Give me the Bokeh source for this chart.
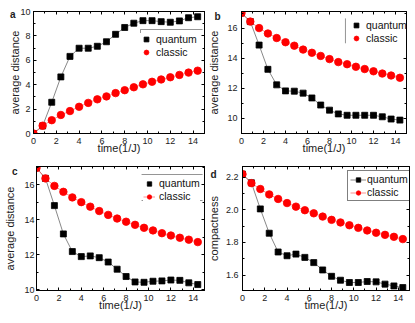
from bokeh.plotting import figure
from bokeh.models import (LinearAxis, SingleIntervalTicker, FixedTicker, Range1d,
                          Legend, LegendItem, PrintfTickFormatter, BoxAnnotation,
                          CustomLabelingPolicy, CustomJSTickFormatter)
from bokeh.layouts import column, row
from bokeh.embed import file_html
from bokeh.resources import INLINE

# ---------------- data ----------------
t = [0.0, 0.8, 1.6, 2.4, 3.2, 4.0, 4.8, 5.6, 6.4, 7.2, 8.0, 8.8, 9.6,
     10.4, 11.2, 12.0, 12.8, 13.6, 14.4]

a_quantum = [0.0, 0.62, 2.56, 4.64, 6.32, 6.99, 6.99, 7.15, 7.52, 8.13, 8.69,
             9.04, 9.25, 9.25, 9.17, 9.12, 9.23, 9.49, 9.57]
a_classic = [0.0, 0.64, 1.09, 1.52, 1.84, 2.19, 2.51, 2.80, 3.04, 3.31, 3.55,
             3.79, 4.03, 4.24, 4.43, 4.61, 4.80, 4.99, 5.15]

b_quantum = [17.0, 16.43, 14.87, 13.26, 12.23, 11.83, 11.81, 11.68, 11.36,
             10.89, 10.55, 10.30, 10.21, 10.21, 10.21, 10.21, 10.11, 9.96, 9.89]
b_classic = [17.0, 16.43, 16.0, 15.64, 15.34, 15.06, 14.83, 14.57, 14.36,
             14.15, 13.94, 13.74, 13.60, 13.43, 13.28, 13.13, 12.98, 12.85, 12.70]

c_quantum = [16.97, 16.37, 14.81, 13.19, 12.18, 11.89, 11.93, 11.83, 11.58,
             11.17, 10.75, 10.44, 10.42, 10.48, 10.50, 10.55, 10.53, 10.39, 10.29]
c_classic = [16.97, 16.37, 15.94, 15.60, 15.28, 15.01, 14.75, 14.50, 14.28,
             14.07, 13.89, 13.71, 13.54, 13.39, 13.23, 13.10, 12.97, 12.86, 12.72]

d_quantum = [2.218, 2.165, 2.005, 1.856, 1.741, 1.718, 1.728, 1.708, 1.676,
             1.631, 1.592, 1.568, 1.554, 1.554, 1.560, 1.558, 1.544, 1.533, 1.523]
d_classic = [2.218, 2.163, 2.127, 2.094, 2.066, 2.041, 2.019, 1.997, 1.978,
             1.958, 1.938, 1.922, 1.905, 1.889, 1.873, 1.859, 1.846, 1.834, 1.820]

series_labels = ["quantum", "classic"]
x_label = "time(1/J)"
panel_letters = ["a", "b", "c", "d"]
y_labels = ["average distance", "average distance", "average distance",
            "compactness"]

FONT = "Liberation Sans"
RED = "#ff0000"
TXT = "#222222"
BOTTOM = 32   # space the x axis actually takes


def base_axis(ax, interval):
    ax.ticker = SingleIntervalTicker(interval=interval, num_minor_ticks=2)
    ax.axis_line_color = "black"
    ax.major_tick_in = 3
    ax.major_tick_out = 0
    ax.minor_tick_in = 2
    ax.minor_tick_out = 0
    ax.major_tick_line_color = "black"
    ax.minor_tick_line_color = "black"
    ax.major_label_text_font = FONT
    ax.major_label_text_color = TXT
    ax.major_label_text_font_size = "9px"
    ax.axis_label_text_font = FONT
    ax.axis_label_text_font_size = "11px"
    ax.axis_label_text_font_style = "normal"
    ax.axis_label_text_color = TXT


def mirror_axis(ax, interval):
    base_axis(ax, interval)
    ax.major_label_text_font_size = "1px"
    ax.major_label_standoff = 0
    ax.axis_label_standoff = 0
    ax.formatter = CustomJSTickFormatter(code="return ''")
    ax.major_label_policy = CustomLabelingPolicy(
        code="for (const i of indices) indices.unset(i); return indices")


def make_panel(idx, q, c, yr, yint, w, h, borders, ystand, letter_y,
               leg_left, leg_top, leg_style, frag_lines, yfmt=None):
    bl, br, bt = borders
    p = figure(width=w, height=h, output_backend="svg", toolbar_location=None,
               x_range=Range1d(0, 15), y_range=Range1d(*yr),
               min_border_left=bl, min_border_right=br,
               min_border_top=bt, min_border_bottom=BOTTOM)
    p.grid.visible = False
    p.outline_line_color = "black"
    p.background_fill_color = "white"
    p.border_fill_color = "white"
    fw = w - bl - br
    fh = h - bt - BOTTOM

    xa = p.xaxis[0]
    base_axis(xa, 2)
    xa.axis_label = x_label
    xa.major_label_standoff = 4
    xa.axis_label_standoff = -5

    ya = p.yaxis[0]
    base_axis(ya, yint)
    if yfmt:
        ya.formatter = PrintfTickFormatter(format=yfmt)
    ya.major_label_standoff = ystand[0]

    # outer left axis: carries the panel letter (one tick) and the y title
    la = LinearAxis(ticker=FixedTicker(ticks=[letter_y]),
                    formatter=CustomJSTickFormatter(
                        code="return '%s'" % panel_letters[idx]))
    la.axis_line_color = None
    la.major_tick_line_color = None
    la.minor_tick_line_color = None
    la.major_tick_in = 0
    la.major_tick_out = 0
    la.major_label_text_font = FONT
    la.major_label_text_font_size = "10px"
    la.major_label_text_font_style = "bold"
    la.major_label_text_color = TXT
    la.major_label_standoff = ystand[1]
    la.axis_label = y_labels[idx]
    la.axis_label_text_font = FONT
    la.axis_label_text_font_size = "11px"
    la.axis_label_text_font_style = "normal"
    la.axis_label_text_color = TXT
    la.axis_label_standoff = ystand[2]
    p.add_layout(la, "left")

    top = LinearAxis()
    mirror_axis(top, 2)
    p.add_layout(top, "above")
    right = LinearAxis()
    mirror_axis(right, yint)
    p.add_layout(right, "right")

    def dx(px):
        return px * 15.0 / fw

    def dy(py):
        return yr[1] - py * (yr[1] - yr[0]) / fh

    ql = p.line(t, q, line_color="#555555", line_width=0.7)
    qs = p.scatter(t, q, marker="square", size=6, fill_color="black",
                   line_color="black", line_width=0.8)
    cl = p.line(t, c, line_color="#ff6060", line_width=0.7)
    cs = p.scatter(t, c, marker="circle", size=7.5, fill_color=RED,
                   line_color=RED, line_width=0.8)

    q_r = [qs] if leg_style in ("a", "b", "c") else [ql, qs]
    c_r = [cs] if leg_style in ("a", "b") else [cl, cs]
    gw = 12 if leg_style in ("a", "b", "c") else 16
    gh = 12 if leg_style in ("a", "b") else 11
    leg_h = 2 * 2 + 2 * gh + 1
    legend = Legend(items=[LegendItem(label=series_labels[0], renderers=q_r),
                           LegendItem(label=series_labels[1], renderers=c_r)],
                    location=(leg_left, fh - leg_top - leg_h),
                    glyph_width=gw, glyph_height=gh,
                    label_height=gh, spacing=1, padding=2, margin=0,
                    label_standoff=4 if leg_style != "d" else 1,
                    label_text_font=FONT, label_text_font_size="10.5px",
                    label_text_color="#111111",
                    border_line_color="black" if leg_style == "d" else None,
                    border_line_width=1,
                    background_fill_color="white", background_fill_alpha=1.0)
    p.add_layout(legend)

    # partial legend frame lines seen in the original figure
    for (x0, y0, x1, y1) in frag_lines:
        p.add_layout(BoxAnnotation(left=dx(x0), right=dx(x1), top=dy(y0),
                                   bottom=dy(y1), fill_alpha=0,
                                   line_color="#333333", line_width=1))
    return p


pa = make_panel(0, a_quantum, a_classic, (0, 10), 2, 205, 165,
                (33, 1, 11), (3, 2, -14), 9.76, 107, 18, "a",
                [(107, 18, 169, 18), (107, 18, 107, 32)])
pb = make_panel(1, b_quantum, b_classic, (9, 17.1), 2, 205, 165,
                (28, 4, 10), (4, 4, -9), 16.78, 109, 5, "b",
                [(109, 7, 109, 32)])
pc = make_panel(2, c_quantum, c_classic, (9.95, 17.05), 2, 205, 157,
                (33, 1, 1), (2, 4, -7), 16.83, 107, 9, "c",
                [(107, 8, 169, 8), (107, 34, 169, 34)])
pd = make_panel(3, d_quantum, d_classic, (1.505, 2.265), 0.2, 208, 157,
                (33, 4, 1), (4, 6, -13), 2.217, 105, 8, "d", [],
                yfmt="%.1f")

layout = column(row(pa, pb), row(pc, pd))

open("out.html", "w").write(file_html(layout, INLINE))
